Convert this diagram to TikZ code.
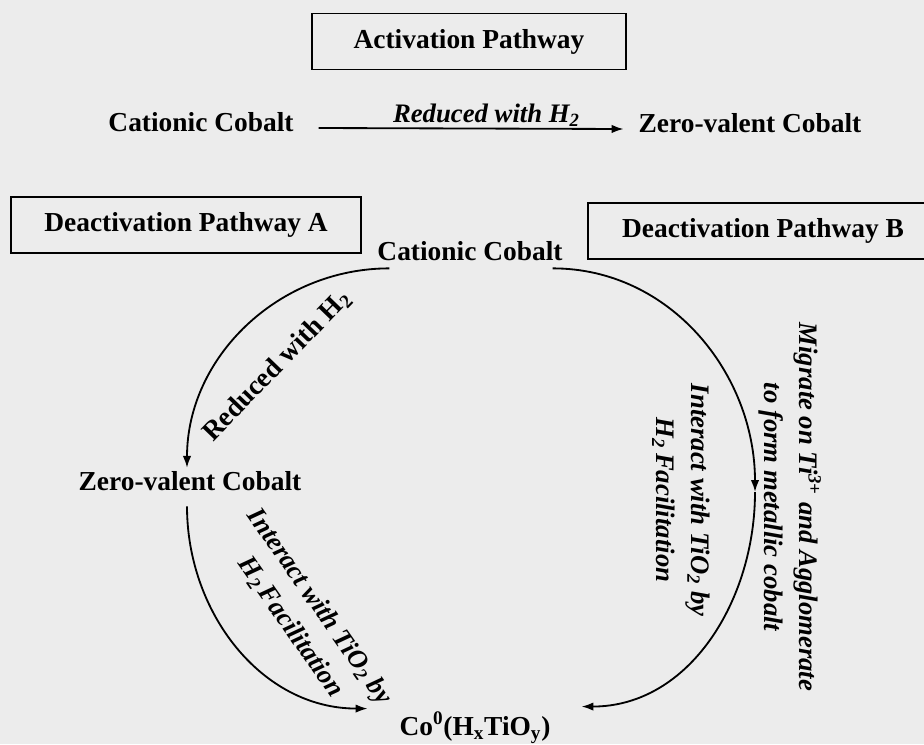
\documentclass[tikz,border=0pt]{standalone}
\usepackage{fontspec}
\setmainfont{Liberation Serif}
\usepackage{tikz}
\usetikzlibrary{arrows.meta,positioning}
\definecolor{paper}{RGB}{236,236,236}

\begin{document}
\begin{tikzpicture}[
  x=0.025cm, y=-0.025cm,
  font=\fontsize{19.5}{24}\selectfont\bfseries,
  lbl/.style={inner sep=2pt},
  titlebox/.style={draw, line width=1.4pt, minimum height=1.4cm},
  note/.style={font=\fontsize{19}{25}\selectfont\bfseries\itshape, align=center, inner sep=1pt},
  arr/.style={-{Latex[length=8.5pt,width=6pt]}, line width=1.3pt}
]
\fill[paper] (0,0) rectangle (924,744);
\clip (0,0) rectangle (924,744);
\node[titlebox, minimum width=7.85cm] (act) at (469,41.5) {Activation Pathway};
\node[lbl, anchor=base] (cat1) at (201,131) {Cationic Cobalt};
\node[lbl, anchor=base] (zero1) at (750,132) {Zero-valent Cobalt};
\node[titlebox, minimum width=8.725cm] (deacA) at (186,225) {Deactivation Pathway A};
\node[titlebox, minimum width=8.75cm] (deacB) at (763,231) {Deactivation Pathway B};
\node[lbl, anchor=base] (cat2) at (470,260) {Cationic Cobalt};
\node[lbl, anchor=base] (zero2) at (190,490) {Zero-valent Cobalt};
\node[lbl, anchor=base] (co) at (475,735) {Co\textsuperscript{0}(H\textsubscript{x}TiO\textsubscript{y})};
\coordinate (bend) at (755,492);
\node[lbl, rotate=46] (redA) at (277,366) {Reduced with H\textsubscript{2}};
\node[note, rotate=-55] (intA) at (305,617) {Interact with TiO\textsubscript{2} by\\H\textsubscript{2}\,Facilitation};
\node[note, rotate=-90] (migB) at (790,507) {Migrate on Ti\textsuperscript{3+} and Agglomerate\\to form metallic cobalt};
\node[note, rotate=-90] (intB) at (681,500) {Interact with TiO\textsubscript{2} by\\H\textsubscript{2}\,Facilitation};
\draw[arr] ([shift={(22,-3)}]cat1.base east) -- node[note, pos=0.55, above] {Reduced with H\textsubscript{2}} ([shift={(-12,-3)}]zero1.base west);
\draw[arr] ([shift={(15,5)}]cat2.south west) to[out=180, in=90] ([shift={(-3,0)}]zero2.north);
\draw[arr] ([shift={(-3,13)}]zero2.south) to[out=-90, in=180] ([shift={(-29,0)}]co.north west);
\draw[arr] ([shift={(-13,5)}]cat2.south east) to[out=0, in=90] (bend);
\draw[arr] (bend) to[out=-90, in=0] ([shift={(28,-2)}]co.north east);
\end{tikzpicture}
\end{document}
